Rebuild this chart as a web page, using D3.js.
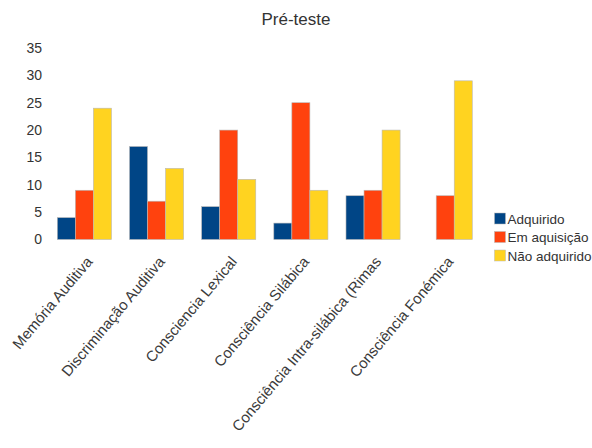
<!DOCTYPE html>
<html><head><meta charset="utf-8">
<script src="https://cdn.jsdelivr.net/npm/d3@7"></script>
<style>body{margin:0;background:#fff}svg{display:block}text{font-family:"Liberation Sans",Arial,sans-serif;fill:#333}</style>
</head><body>
<script>
const categories = ["Memória Auditiva","Discriminação Auditiva","Consciencia Lexical","Consciência Silábica","Consciência Intra-silábica (Rimas","Consciência Fonémica"];
const seriesNames = ["Adquirido","Em aquisição","Não adquirido"];
const adquirido = [4,17,6,3,8,0];
const emAquisicao = [9,7,20,25,9,8];
const naoAdquirido = [24,13,11,9,20,29];
const yTicks = [0,5,10,15,20,25,30,35];
const colors = ["#004586","#ff420e","#ffd320"];
const title = "Pré-teste";

const W=592,H=448;
const svg=d3.select("body").append("svg").attr("width",W).attr("height",H);
const series=[adquirido,emAquisicao,naoAdquirido];

const x0=d3.scaleBand().domain(categories).range([48.3,481.3]).paddingInner(0.25).paddingOuter(0.125);
const x1=d3.scaleBand().domain(seriesNames).range([0,x0.bandwidth()]);
const y=d3.scaleLinear().domain([0,35]).range([239.5,48]);

svg.append("text").attr("x",296).attr("y",25).attr("text-anchor","middle").style("font-size","17px").text(title);

const yAxis=svg.append("g").attr("transform","translate(42,0)")
  .call(d3.axisLeft(y).tickValues(yTicks).tickSize(0).tickPadding(0));
yAxis.select(".domain").remove();
yAxis.selectAll("text").style("font-size","14px").attr("fill","#333").style("font-family","'Liberation Sans',Arial,sans-serif");

const g=svg.append("g");
categories.forEach((c,i)=>{
  seriesNames.forEach((s,j)=>{
    const v=series[j][i];
    if(v<=0) return;
    g.append("rect").attr("x",x0(c)+x1(s)).attr("y",y(v)).attr("width",x1.bandwidth()).attr("height",y(0)-y(v))
     .attr("fill",colors[j]).attr("stroke","#b8b8b8").attr("stroke-width",0.6);
  });
});

const xl=svg.append("g");
categories.forEach(c=>{
  const cx=x0(c)+x0.bandwidth()/2;
  xl.append("text").attr("transform",`translate(${cx+9},262) rotate(-50)`).attr("text-anchor","end")
    .style("font-size","15px").style("fill","#3a3a3a").text(c);
});

const leg=svg.append("g");
seriesNames.forEach((s,j)=>{
  const yy=213+j*18.5;
  leg.append("rect").attr("x",494.5).attr("y",yy).attr("width",11).attr("height",11).attr("fill",colors[j]).attr("stroke","#b8b8b8").attr("stroke-width",0.5);
  leg.append("text").attr("x",507.5).attr("y",yy+10.5).style("font-size","13.5px").text(s);
});
</script>
</body></html>
